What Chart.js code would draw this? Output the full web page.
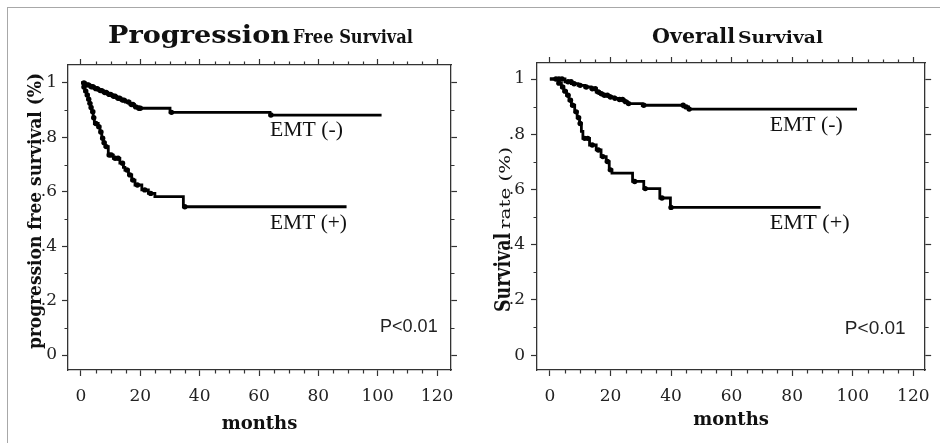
<!DOCTYPE html>
<html><head><meta charset="utf-8">
<script src="https://cdn.jsdelivr.net/npm/chart.js@4"></script>
<style>
html,body{margin:0;padding:0;background:#fff;}
#wrap{position:relative;width:940px;height:443px;overflow:hidden;background:#fff;}
#frame{position:absolute;left:7px;top:7px;width:960px;height:470px;border-left:1px solid #a8a8a8;border-top:1px solid #a8a8a8;}
canvas{position:absolute;top:0;}
#c1{left:0}
#c2{left:470px}
</style></head><body>
<div id="wrap"><div id="frame"></div>
<canvas id="c1" width="470" height="443"></canvas>
<canvas id="c2" width="470" height="443"></canvas>
</div>
<script>
// ---- tick labels ----
const monthTicks = [0, 20, 40, 60, 80, 100, 120];
const minorMonthTicks = [5,10,15,25,30,35,45,50,55,65,70,75,85,90,95,105,110,115];
const rateTicks = [0, 0.2, 0.4, 0.6, 0.8, 1];
const rateTickLabels = ['0', '.2', '.4', '.6', '.8', '1'];
const minorRateTicks = [0.1, 0.3, 0.5, 0.7, 0.9];

// ---- Progression free survival ----
const pfsNegTime = [0, 1.5, 3, 4.5, 6, 7.5, 9, 10.5, 12, 13.5, 15, 16.5, 18, 19.3, 30, 63.7, 101.3];
const pfsNegSurv = [1, 0.993, 0.986, 0.979, 0.972, 0.965, 0.958, 0.951, 0.944, 0.937, 0.93, 0.921, 0.912, 0.907, 0.892, 0.882, 0.882];
const pfsNegCensor = [1, 2, 2.5, 3.5, 4, 5, 5.5, 6.5, 7, 8, 8.5, 9.5, 10, 11, 11.5, 12.5, 13, 14, 14.5, 16, 17, 17.5, 18.5, 19.5, 20, 30.5, 64];
const pfsPosTime = [0, 0.8, 1.3, 1.9, 2.4, 2.9, 3.3, 3.6, 4.1, 4.5, 5.8, 6.4, 7, 7.5, 8.1, 9.2, 10.9, 13.1, 14.3, 14.8, 16, 17.1, 18.2, 20.5, 22.7, 24.9, 34.5, 89.5];
const pfsPosSurv = [1, 0.985, 0.97, 0.956, 0.94, 0.925, 0.91, 0.894, 0.872, 0.851, 0.839, 0.82, 0.797, 0.78, 0.766, 0.735, 0.723, 0.705, 0.69, 0.68, 0.662, 0.643, 0.625, 0.607, 0.594, 0.582, 0.545, 0.545];
const pfsPosCensor = [1, 1.6, 2.1, 2.6, 3, 3.4, 4, 4.3, 5, 6, 6.7, 7.3, 7.8, 8.5, 9.5, 10.2, 11.5, 12.5, 14, 15.5, 16.5, 17.5, 19, 21.5, 23.5, 35];

// ---- Overall survival ----
const osNegTime = [0, 5, 7.1, 9.3, 11.5, 13.6, 15.3, 16.4, 17.5, 19.6, 21.2, 22.9, 24.5, 25.6, 30.5, 44.2, 45.8, 101.4];
const osNegSurv = [1, 0.99, 0.983, 0.977, 0.971, 0.965, 0.953, 0.947, 0.941, 0.935, 0.93, 0.926, 0.918, 0.911, 0.905, 0.899, 0.891, 0.891];
const osNegCensor = [2, 3, 4, 6, 7, 8, 10, 12, 14, 15, 16, 17, 18, 19, 20, 21.5, 23, 24, 25, 26, 31, 44, 45, 46];
const osPosTime = [0, 2.7, 3.8, 4.6, 5.5, 6.3, 7.1, 8.2, 9, 9.8, 10.4, 10.9, 13.1, 15.3, 16.9, 18.6, 19.6, 20.5, 27.3, 31, 36.3, 39.8, 89.4];
const osPosSurv = [1, 0.985, 0.971, 0.956, 0.941, 0.923, 0.905, 0.881, 0.86, 0.839, 0.81, 0.785, 0.761, 0.743, 0.719, 0.701, 0.671, 0.659, 0.629, 0.603, 0.569, 0.535, 0.535];
const osPosCensor = [3, 4.2, 5, 6, 6.8, 7.5, 8.7, 9.5, 10, 11.5, 12.5, 14, 16, 17.5, 19, 20, 28, 31.5, 37, 40];

function curve(times, surv) { return times.map((t, i) => ({ x: t, y: surv[i] })); }
function survAt(times, surv, t) { let s = surv[0]; for (let i = 0; i < times.length; i++) if (times[i] <= t) s = surv[i]; return s; }
function censorPts(times, surv, cens) { return cens.map(t => ({ x: t, y: survAt(times, surv, t) })); }

function drawFit(ctx, text, x, y, w, font, align, rot) {
  ctx.save();
  ctx.font = font;
  const m = ctx.measureText(text).width;
  const sx = w ? w / m : 1;
  ctx.translate(x, y);
  if (rot) ctx.rotate(rot);
  ctx.scale(sx, 1);
  ctx.textAlign = align || 'left';
  ctx.fillText(text, 0, 0);
  ctx.restore();
}

const SERIF = '"DejaVu Serif", "Liberation Serif", serif';
const INK = '#111';
const AXC = '#333';

const decorPlugin = {
  id: 'decor',
  afterDraw(chart) {
    const o = chart.options.plugins.decor;
    const ctx = chart.ctx;
    const xs = chart.scales.x, ys = chart.scales.y, a = chart.chartArea;
    // minor ticks
    ctx.save();
    ctx.strokeStyle = AXC; ctx.lineWidth = 1.2;
    ctx.beginPath();
    minorMonthTicks.forEach(v => {
      const p = Math.round(xs.getPixelForValue(v)) + 0.5;
      ctx.moveTo(p, a.bottom); ctx.lineTo(p, a.bottom + 3.5);
      ctx.moveTo(p, a.top); ctx.lineTo(p, a.top - 3.5);
    });
    minorRateTicks.forEach(v => {
      const p = Math.round(ys.getPixelForValue(v)) + 0.5;
      ctx.moveTo(a.left, p); ctx.lineTo(a.left - 3.5, p);
      ctx.moveTo(a.right, p); ctx.lineTo(a.right + 3.5, p);
    });
    ctx.stroke();
    ctx.restore();
    ctx.save();
    ctx.fillStyle = INK;
    ctx.textBaseline = 'alphabetic';
    (o.texts || []).forEach(t => drawFit(ctx, t.text, t.x, t.y, t.w, t.font, t.align, t.rot));
    ctx.textBaseline = 'middle';
    (o.notes || []).forEach(t => {
      ctx.fillStyle = t.color || INK;
      drawFit(ctx, t.text, xs.getPixelForValue(t.mx), ys.getPixelForValue(t.my), t.w, t.font, 'left');
    });
    ctx.restore();
  }
};

function makeChart(id, cfg) {
  const axisCommon = {
    type: 'linear',
    grid: { drawOnChartArea: false, drawTicks: true, tickLength: 6, color: AXC, tickColor: AXC, tickWidth: 1.2 },
    border: { display: true, color: AXC, width: 1.3 }
  };
  return new Chart(document.getElementById(id), {
    type: 'line',
    data: {
      datasets: [
        { data: curve(cfg.negT, cfg.negS), stepped: 'before', borderColor: '#000', borderWidth: 2.8, pointRadius: 0, fill: false },
        { data: curve(cfg.posT, cfg.posS), stepped: 'before', borderColor: '#000', borderWidth: 2.8, pointRadius: 0, fill: false },
        { data: censorPts(cfg.negT, cfg.negS, cfg.negC), showLine: false, pointRadius: 2.7, pointBackgroundColor: '#000', pointBorderWidth: 0 },
        { data: censorPts(cfg.posT, cfg.posS, cfg.posC), showLine: false, pointRadius: 2.7, pointBackgroundColor: '#000', pointBorderWidth: 0 }
      ]
    },
    options: {
      responsive: false, animation: false, devicePixelRatio: 1,
      layout: { padding: 0 },
      plugins: { legend: { display: false }, tooltip: { enabled: false }, decor: { texts: cfg.texts, notes: cfg.notes } },
      scales: {
        x: Object.assign({}, axisCommon, {
          position: 'bottom', min: cfg.xmin, max: cfg.xmax,
          afterBuildTicks: s => { s.ticks = monthTicks.map(v => ({ value: v })); },
          afterFit: s => { s.height = cfg.bottomH; },
          ticks: { font: { family: SERIF, size: 17 }, color: '#222', padding: 10, maxRotation: 0, autoSkip: false, callback: v => String(v) },
          title: { display: true, text: 'months', color: INK, font: { family: SERIF, size: 18, weight: 'bold', lineHeight: 1.2 }, padding: { top: 0, bottom: cfg.titlePad } }
        }),
        x2: Object.assign({}, axisCommon, {
          position: 'top', min: cfg.xmin, max: cfg.xmax,
          afterBuildTicks: s => { s.ticks = monthTicks.map(v => ({ value: v })); },
          afterFit: s => { s.height = cfg.topH; },
          ticks: { display: false }
        }),
        y: Object.assign({}, axisCommon, {
          position: 'left', min: cfg.ymin, max: cfg.ymax,
          afterBuildTicks: s => { s.ticks = rateTicks.map(v => ({ value: v })); },
          afterFit: s => { s.width = cfg.leftW; },
          ticks: { font: { family: SERIF, size: 17 }, color: '#222', padding: cfg.yPad, callback: (v, i) => rateTickLabels[i] }
        }),
        y2: Object.assign({}, axisCommon, {
          position: 'right', min: cfg.ymin, max: cfg.ymax,
          afterBuildTicks: s => { s.ticks = rateTicks.map(v => ({ value: v })); },
          afterFit: s => { s.width = cfg.rightW; },
          ticks: { display: false }
        })
      }
    },
    plugins: [decorPlugin]
  });
}

makeChart('c1', {
  negT: pfsNegTime, negS: pfsNegSurv, negC: pfsNegCensor,
  posT: pfsPosTime, posS: pfsPosSurv, posC: pfsPosCensor,
  xmin: -4.38, xmax: 124.7, ymin: -0.055, ymax: 1.066,
  leftW: 68, rightW: 19, topH: 65, bottomH: 73, titlePad: 8, yPad: 5,
  texts: [
    { text: 'Progression', x: 108, y: 43, w: 182, font: 'bold 25px ' + SERIF },
    { text: 'Free Survival', x: 293, y: 43, w: 120, font: 'bold 18.5px ' + SERIF },
    { text: 'progression free survival (%)', x: 41, y: 349, w: 276, font: 'bold 18px ' + SERIF, rot: -Math.PI / 2 }
  ],
  notes: [
    { text: 'EMT (-)', mx: 63.7, my: 0.824, w: 73, font: '21px "Liberation Serif", serif' },
    { text: 'EMT (+)', mx: 63.7, my: 0.482, w: 77, font: '21px "Liberation Serif", serif' },
    { text: 'P<0.01', mx: 100.8, my: 0.103, w: null, font: '18px "Liberation Sans", sans-serif', color: '#222' }
  ]
});

makeChart('c2', {
  negT: osNegTime, negS: osNegSurv, negC: osNegCensor,
  posT: osPosTime, posS: osPosSurv, posC: osPosCensor,
  xmin: -4.25, xmax: 123.9, ymin: -0.054, ymax: 1.058,
  leftW: 67, rightW: 11, topH: 63, bottomH: 73, titlePad: 12, yPad: 6,
  texts: [
    { text: 'Overall', x: 182, y: 43, w: 83, font: 'bold 21px ' + SERIF },
    { text: 'Survival', x: 268, y: 43, w: 85, font: 'bold 17.5px ' + SERIF },
    { text: 'Survival', x: 40, y: 312, w: 79, font: 'bold 22px ' + SERIF, rot: -Math.PI / 2 },
    { text: 'rate (%)', x: 40, y: 229, w: 82, font: '14px ' + SERIF, rot: -Math.PI / 2 }
  ],
  notes: [
    { text: 'EMT (-)', mx: 72.6, my: 0.833, w: 73, font: '21px "Liberation Serif", serif' },
    { text: 'EMT (+)', mx: 72.6, my: 0.475, w: 80, font: '21px "Liberation Serif", serif' },
    { text: 'P<0.01', mx: 97.4, my: 0.094, w: null, font: '19px "Liberation Sans", sans-serif', color: '#222' }
  ]
});
</script>
</body></html>
